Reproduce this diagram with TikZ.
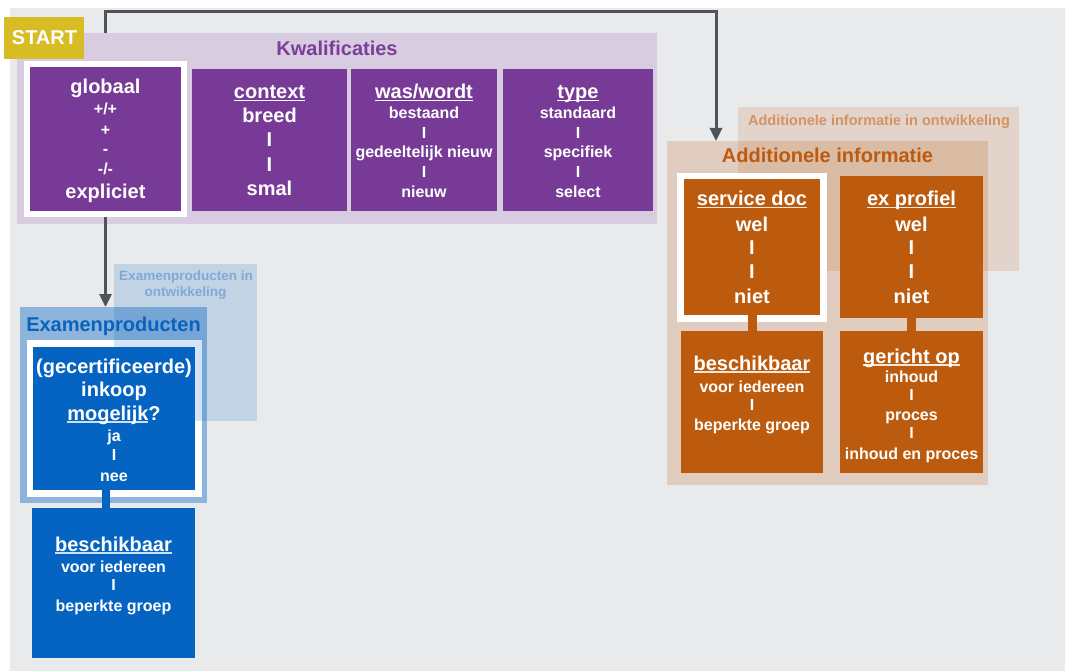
\documentclass[tikz,border=0pt]{standalone}
\usepackage{fontspec}
\setmainfont{Liberation Sans}
\usetikzlibrary{arrows.meta}
\definecolor{bg}{HTML}{E9EAEC}
\definecolor{purp}{HTML}{773B97}
\definecolor{purptitle}{HTML}{7B3F99}
\definecolor{purppanel}{HTML}{D8CDE0}
\definecolor{gold}{HTML}{D8BC24}
\definecolor{blu}{HTML}{0563C1}
\definecolor{blutitle}{HTML}{0B62BD}
\definecolor{orng}{HTML}{BC5B0D}
\definecolor{arrgray}{HTML}{50545A}
\definecolor{bluedev}{HTML}{7FAAD8}
\definecolor{orngdev}{HTML}{D69262}
\colorlet{ulblue}{white!80!blu}
\colorlet{ulorng}{white!85!orng}
\newcommand\myul[2][white]{\setbox0\hbox{#2}\rlap{\color{#1}\rule[-2.5pt]{\wd0}{1.5pt}}\box0}
\newcommand\rectat[6]{\node[rectnode,#2,minimum width={(#5-#3)*1pt},minimum height={(#6-#4)*1pt}] (#1) at ({(#3+#5)/2},{(#4+#6)/2}) {};}
\newcommand\txt[5]{\node[#2] (#1) at (#3,#4) {#5};}
\tikzset{
  rectnode/.style={inner sep=0pt, outer sep=0pt, draw=none},
  big/.style={font=\fontsize{20}{24}\selectfont\bfseries, text=white, anchor=base, inner sep=0pt},
  sml/.style={font=\fontsize{16}{19}\selectfont\bfseries, text=white, anchor=base, inner sep=0pt},
  devtxt/.style={font=\fontsize{13.5}{16}\selectfont\bfseries, anchor=base, inner sep=0pt},
  arr/.style={draw=arrgray, line width=3pt, -{Triangle[width=12pt,length=13pt]}},
  stemb/.style={draw=blu, line width=8pt},
  stemo/.style={draw=orng, line width=9pt},
}
\begin{document}
\begin{tikzpicture}[x=1pt,y=-1pt]
\useasboundingbox (0,0) rectangle (1065,671);
\rectat{bgpanel}{fill=bg}{10}{8}{1065}{671}

% ---------- Kwalificaties ----------
\rectat{kwal}{fill=purppanel}{17}{33}{657}{224}
\txt{kwaltitle}{big,text=purptitle}{337}{56}{Kwalificaties}
\rectat{start}{fill=gold}{4}{17}{84}{59}
\txt{starttext}{big}{44.5}{45}{START}

\rectat{globframe}{fill=white}{24}{61}{187}{217}
\rectat{glob}{fill=purp}{30}{67}{181}{211}
\txt{g1}{big}{105.5}{94}{globaal}
\txt{g2}{sml}{105.5}{115}{+/+}
\txt{g3}{sml}{105.5}{136}{+}
\txt{g4}{sml}{105.5}{155}{-}
\txt{g5}{sml}{105.5}{175}{-/-}
\txt{g6}{big}{105.5}{199}{expliciet}

\rectat{ctx}{fill=purp}{192}{69}{347}{211}
\txt{c1}{big}{269.5}{99}{\myul{context}}
\txt{c2}{big}{269.5}{123}{breed}
\txt{c3}{big}{269.5}{147}{I}
\txt{c4}{big}{269.5}{172}{I}
\txt{c5}{big}{269.5}{196}{smal}

\rectat{was}{fill=purp}{351}{69}{497}{211}
\txt{w1}{big}{424}{99}{\myul{was/wordt}}
\txt{w2}{sml}{424}{119}{bestaand}
\txt{w3}{sml}{424}{139}{I}
\txt{w4}{sml}{424}{158}{gedeeltelijk nieuw}
\txt{w5}{sml}{424}{178}{I}
\txt{w6}{sml}{424}{197}{nieuw}

\rectat{typ}{fill=purp}{503}{69}{653}{211}
\txt{t1}{big}{578}{99}{\myul{type}}
\txt{t2}{sml}{578}{119}{standaard}
\txt{t3}{sml}{578}{139}{I}
\txt{t4}{sml}{578}{158}{specifiek}
\txt{t5}{sml}{578}{178}{I}
\txt{t6}{sml}{578}{197}{select}

% ---------- Examenproducten ----------
\rectat{exam}{fill=blu,fill opacity=0.4}{20}{307}{207}{503}
\rectat{inkframe}{fill=white}{27}{340}{202}{497}
\rectat{examdev}{fill=blu,fill opacity=0.17}{114}{264}{257}{421}
\rectat{inkoop}{fill=blu}{33}{347}{195}{490}
\rectat{beschb}{fill=blu}{32}{508}{195}{658}
\coordinate (stemx) at (106,0);
\draw[stemb] (inkoop.south -| stemx) -- (beschb.north -| stemx);
\txt{examtitle}{big,text=blutitle}{113.5}{331}{Examenproducten}
\txt{examdev1}{devtxt,text=bluedev}{186}{280}{Examenproducten in}
\txt{examdev2}{devtxt,text=bluedev}{185.5}{296}{ontwikkeling}
\txt{i1}{big}{114}{373}{(gecertificeerde)}
\txt{i2}{big}{114}{396}{inkoop}
\txt{i3}{big}{114}{420}{\myul[ulblue]{mogelijk}?}
\txt{i4}{sml}{114}{441}{ja}
\txt{i5}{sml}{114}{460}{I}
\txt{i6}{sml}{114}{481}{nee}
\txt{b1}{big}{113.5}{551}{\myul[ulblue]{beschikbaar}}
\txt{b2}{sml}{113.5}{572}{voor iedereen}
\txt{b3}{sml}{113.5}{590}{I}
\txt{b4}{sml}{113.5}{611}{beperkte groep}

% ---------- Additionele informatie ----------
\rectat{addldev}{fill=orng,fill opacity=0.15}{738}{107}{1019}{271}
\rectat{addl}{fill=orng,fill opacity=0.2}{667}{141}{988}{485}
\rectat{servframe}{fill=white}{677}{173}{827}{322}
\rectat{serv}{fill=orng}{684}{179}{820}{315}
\rectat{exprof}{fill=orng}{840}{176}{983}{318}
\rectat{beschc}{fill=orng}{681}{331}{823}{473}
\rectat{gericht}{fill=orng}{840}{331}{983}{473}
\draw[stemo] (serv.south) -- (beschc.north);
\draw[stemo] (exprof.south) -- (gericht.north);
\txt{addltitle}{big,text=orng}{827.5}{163}{Additionele informatie}
\txt{addldevtitle}{devtxt,font=\fontsize{14.5}{17}\selectfont\bfseries,text=orngdev}{879}{126}{Additionele informatie in ontwikkeling}
\txt{s1}{big}{752}{206}{\myul[ulorng]{service doc}}
\txt{s2}{big}{752}{231}{wel}
\txt{s3}{big}{752}{254}{I}
\txt{s4}{big}{752}{278}{I}
\txt{s5}{big}{752}{303}{niet}
\txt{e1}{big}{911.5}{206}{\myul[ulorng]{ex profiel}}
\txt{e2}{big}{911.5}{231}{wel}
\txt{e3}{big}{911.5}{254}{I}
\txt{e4}{big}{911.5}{278}{I}
\txt{e5}{big}{911.5}{303}{niet}
\txt{o1}{big}{752}{370}{\myul[ulorng]{beschikbaar}}
\txt{o2}{sml}{752}{392}{voor iedereen}
\txt{o3}{sml}{752}{410}{I}
\txt{o4}{sml}{752}{430}{beperkte groep}
\txt{r1}{big}{911.5}{363}{\myul[ulorng]{gericht op}}
\txt{r2}{sml}{911.5}{382}{inhoud}
\txt{r3}{sml}{911.5}{400}{I}
\txt{r4}{sml}{911.5}{420}{proces}
\txt{r5}{sml}{911.5}{438}{I}
\txt{r6}{sml}{911.5}{459}{inhoud en proces}

% ---------- connectors ----------
\coordinate (turnA) at (105.5,12);
\coordinate (turnB) at (716,12);
\draw[arr] (globframe.north |- kwal.north) -- (turnA) -- (turnB) -- (turnB |- addl.north);
\draw[arr] (globframe.south) -- (globframe.south |- exam.north);
\end{tikzpicture}
\end{document}
